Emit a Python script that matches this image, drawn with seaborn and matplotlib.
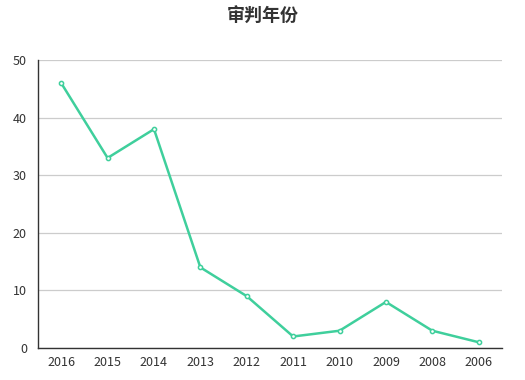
import pandas as pd
import matplotlib.pyplot as plt
import seaborn as sns

# Data
years = ["2016", "2015", "2014", "2013", "2012", "2011", "2010", "2009", "2008", "2006"]
counts = [46, 33, 38, 14, 9, 2, 3, 8, 3, 1]

df = pd.DataFrame({"year": years, "count": counts})

sns.set_style("white")
plt.rcParams["font.family"] = ["Noto Sans CJK SC", "DejaVu Sans"]

fig = plt.figure(figsize=(5.25, 3.8), dpi=100)
ax = fig.add_axes([0.0724, 0.0842, 0.8836, 0.7578])

sns.lineplot(data=df, x="year", y="count", ax=ax, color="#3fcf9c", linewidth=1.8,
             marker="o", markersize=3, markerfacecolor="white",
             markeredgecolor="#3fcf9c", markeredgewidth=1.1, sort=False)

ax.set_xlim(-0.5, len(years) - 0.5)
ax.set_ylim(0, 50)
ax.set_yticks([0, 10, 20, 30, 40, 50])
ax.yaxis.grid(True, color="#cccccc", linewidth=0.9)
ax.set_axisbelow(True)

# category boundary ticks
ax.set_xticks(range(len(years)))
ax.set_xticklabels(years)
ax.set_xticks([i - 0.5 for i in range(len(years) + 1)], minor=True)
ax.tick_params(axis="x", which="major", length=0, pad=6, labelsize=9, colors="#333333")
ax.tick_params(axis="x", which="minor", length=5, width=1, color="#333333", direction="out")
ax.tick_params(axis="y", which="major", length=5, width=1, color="#333333", direction="out",
               labelsize=9, labelcolor="#333333", pad=3)

for side in ["top", "right"]:
    ax.spines[side].set_visible(False)
for side in ["left", "bottom"]:
    ax.spines[side].set_color("#333333")
    ax.spines[side].set_linewidth(1)

ax.set_xlabel("")
ax.set_ylabel("")

fig.text(0.5, 0.958, "审判年份", ha="center", va="center", fontsize=13,
         fontweight="bold", color="#333333")

fig.savefig("out.png", dpi=100)
plt.close(fig)
